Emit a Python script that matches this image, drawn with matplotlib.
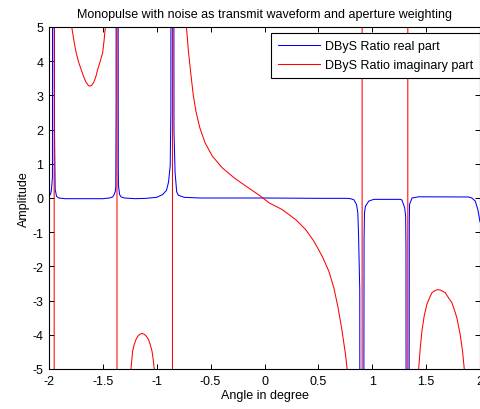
import matplotlib
matplotlib.use("Agg")
import matplotlib.pyplot as plt
import numpy as np

plt.rcParams['font.family'] = ['Liberation Sans', 'DejaVu Sans']
plt.rcParams['axes.unicode_minus'] = False

# ---- data ----
# DByS ratio, real part (spikes at the poles)
real_x = [-2.000, -1.985, -1.978, -1.968, -1.960, -1.949, -1.943, -1.930, -1.910,
          -1.850, -1.700, -1.600, -1.500, -1.440, -1.409, -1.395, -1.384, -1.380,
          -1.377, -1.373, -1.357, -1.355, -1.345, -1.330, -1.300, -1.200, -1.100,
          -1.000, -0.946, -0.910, -0.891, -0.875, -0.869, -0.858, -0.840, -0.830,
          -0.815, -0.800, -0.745, -0.600, 0.000, 0.500, 0.760, 0.798, 0.829, 0.854,
          0.866, 0.872, 0.884, 0.898, 0.924, 0.928, 0.937, 0.968, 1.014,
          1.261, 1.276, 1.301, 1.310, 1.313, 1.325, 1.344, 1.346, 1.369,
          1.431, 1.894, 1.924, 1.956, 1.980, 2.000]
real_y = [0.05, 0.12, 0.22, 0.60, 60.0, 1.96, 0.26, 0.05, 0.00,
          -0.02, -0.02, -0.02, -0.02, 0.00, 0.03, 0.10, 0.20, 0.34,
          2.75, 60.0, 0.85, 0.36, 0.10, 0.03, 0.00, -0.02, -0.01,
          0.02, 0.10, 0.22, 0.46, 0.95, 2.50, 60.0, 1.95, 0.75,
          0.18, 0.08, 0.02, 0.00, 0.00, -0.01, -0.01, -0.02, -0.05, -0.19,
          -0.43, -0.97, -2.68, -60.0, -1.21, -0.43, -0.24, -0.09, -0.04,
          -0.04, -0.06, -0.29, -0.53, -1.41, -60.0, -0.73, -0.19, 0.00,
          0.035, 0.03, 0.00, -0.09, -0.34, -0.70]

# DByS ratio, imaginary part (branches between the poles)
imag_x = [-2.000, -1.975, -1.954,
          -1.950, -1.900, -1.850, -1.810, -1.789, -1.770, -1.748, -1.725, -1.702,
          -1.680, -1.660, -1.640, -1.625, -1.605, -1.585, -1.565, -1.548, -1.525,
          -1.502, -1.489, -1.477, -1.455, -1.420, -1.390, -1.371,
          -1.367, -1.340, -1.300, -1.260, -1.239, -1.231, -1.224, -1.210, -1.193,
          -1.175, -1.155, -1.137, -1.118, -1.097, -1.076, -1.060, -1.044, -1.033,
          -1.023, -1.000, -0.950, -0.900, -0.856,
          -0.852, -0.800, -0.750, -0.724, -0.706, -0.683, -0.662, -0.637, -0.600,
          -0.551, -0.483, -0.391, -0.282, -0.174, -0.035, 0.042, 0.165, 0.289,
          0.381, 0.458, 0.535, 0.597, 0.644, 0.683, 0.720, 0.752, 0.767,
          0.800, 0.850, 0.904,
          0.908, 0.950, 1.000, 1.100, 1.200, 1.280, 1.328,
          1.332, 1.380, 1.410, 1.431, 1.445, 1.461, 1.482, 1.507, 1.530, 1.554,
          1.580, 1.606, 1.630, 1.655, 1.678, 1.708, 1.739, 1.760, 1.785, 1.816,
          1.838, 1.854, 1.900, 1.950, 2.000]
imag_y = [-12.0, -30.0, -200.0,
          200.0, 12.0, 7.5, 5.6, 5.0, 4.62, 4.25, 3.97, 3.76,
          3.56, 3.41, 3.31, 3.27, 3.29, 3.38, 3.55, 3.76, 3.99,
          4.25, 4.60, 5.0, 6.0, 10.0, 30.0, 200.0,
          -200.0, -30.0, -11.0, -6.2, -5.0, -4.72, -4.48, -4.29, -4.14,
          -4.04, -3.98, -3.96, -3.98, -4.04, -4.14, -4.29, -4.48, -4.72,
          -5.0, -6.0, -9.0, -20.0, -200.0,
          200.0, 14.0, 6.8, 4.98, 4.29, 3.61, 3.03, 2.54, 2.05,
          1.61, 1.22, 0.88, 0.59, 0.35, 0.05, -0.14, -0.34, -0.63,
          -0.92, -1.26, -1.70, -2.14, -2.63, -3.21, -3.89, -4.58, -5.01,
          -6.5, -15.0, -200.0,
          200.0, 30.0, 15.0, 10.0, 14.0, 40.0, 200.0,
          -200.0, -12.0, -6.5, -5.0, -4.40, -3.89, -3.45, -3.11, -2.93, -2.77,
          -2.71, -2.68, -2.69, -2.73, -2.77, -2.92, -3.06, -3.25, -3.50, -3.99,
          -4.48, -5.0, -6.5, -10.0, -18.0]

x_ticks = [-2, -1.5, -1, -0.5, 0, 0.5, 1, 1.5, 2]
x_tick_labels = ['-2', '-1.5', '-1', '-0.5', '0', '0.5', '1', '1.5', '2']
y_ticks = [-5, -4, -3, -2, -1, 0, 1, 2, 3, 4, 5]
y_tick_labels = ['-5', '-4', '-3', '-2', '-1', '0', '1', '2', '3', '4', '5']

# ---- figure ----
fig = plt.figure(figsize=(4.81, 4.10), dpi=100)
fig.patch.set_facecolor('white')
ax = fig.add_axes([49/481, 40/410, 431/481, 342/410])

ax.plot(real_x, real_y, color='#0000ff', lw=0.75, label='DByS Ratio real part')
ax.plot(imag_x, imag_y, color='#ff0000', lw=0.75, label='DByS Ratio imaginary part')

ax.set_xlim(-2, 2)
ax.set_ylim(-5, 5)
ax.set_xticks(x_ticks)
ax.set_xticklabels(x_tick_labels)
ax.set_yticks(y_ticks)
ax.set_yticklabels(y_tick_labels)
ax.tick_params(direction='in', top=True, right=True, length=3.5, width=0.7,
               labelsize=9, pad=4, colors='black')
for s in ax.spines.values():
    s.set_linewidth(0.8)
    s.set_color('black')

ax.set_title('Monopulse with noise as transmit waveform and aperture weighting',
             fontsize=9, pad=7)
ax.set_xlabel('Angle in degree', fontsize=9, labelpad=2)
ax.set_ylabel('Amplitude', fontsize=9, labelpad=2)

leg = ax.legend(loc='upper right', bbox_to_anchor=(1.0, 0.982), borderaxespad=0,
                fontsize=9, frameon=True, fancybox=False, framealpha=1,
                edgecolor='black', handlelength=3.4, handletextpad=0.35,
                labelspacing=0.55, borderpad=0.55)
leg.get_frame().set_linewidth(0.8)

fig.savefig('out.png', dpi=100, facecolor='white')
